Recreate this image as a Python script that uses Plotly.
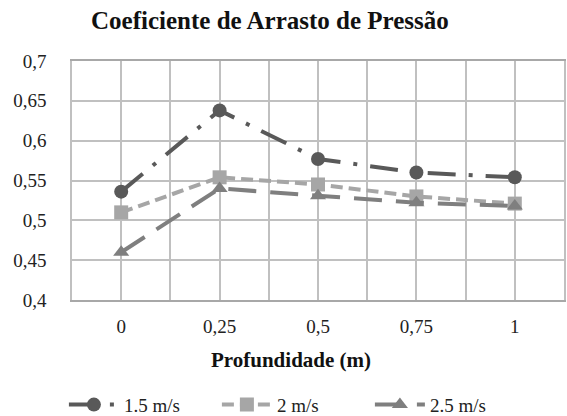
import plotly.graph_objects as go

# Depth (m) and pressure drag coefficient for each flow speed
profundidade = [0, 0.25, 0.5, 0.75, 1]
cd_15 = [0.536, 0.638, 0.577, 0.560, 0.554]
cd_20 = [0.510, 0.554, 0.545, 0.530, 0.521]
cd_25 = [0.460, 0.540, 0.531, 0.522, 0.518]

series = [
    ("1.5 m/s", cd_15, "#595959", "28px,13px,4px,13px", "circle"),
    ("2 m/s", cd_20, "#a6a6a6", "12px,6px", "square"),
    ("2.5 m/s", cd_25, "#7f7f7f", "28px,14px", "triangle-up"),
]

FONT = "Liberation Serif, DejaVu Serif, serif"
GRID = "#c0c0c0"

fig = go.Figure()
for name, vals, color, dash, sym in series:
    fig.add_trace(go.Scatter(
        x=profundidade, y=vals, name=name, mode="lines+markers",
        line=dict(color=color, width=4, dash=dash),
        marker=dict(symbol=sym, size=14, color=color),
    ))

# gridlines every 0.125, labels only on the data positions
grid_x = [i * 0.125 for i in range(-1, 10)]
grid_txt = ["" if v not in profundidade else f"{v:g}".replace(".", ",") for v in grid_x]

y_ticks = [0.4 + 0.05 * i for i in range(7)]
y_txt = [f"{v:.2f}".rstrip("0").replace(".", ",") for v in y_ticks]

fig.update_layout(
    width=567, height=416,
    margin=dict(l=72, r=3, t=61, b=116, autoexpand=False),
    paper_bgcolor="white", plot_bgcolor="white",
    font=dict(family=FONT, size=19, color="#222222"),
    title=dict(text="<b>Coeficiente de Arrasto de Pressão</b>",
               x=0.476, xanchor="center", y=0.952, yanchor="middle",
               font=dict(family=FONT, size=25, color="#111111")),
    xaxis=dict(range=[-0.125, 1.125], tickvals=grid_x, ticktext=grid_txt,
               showgrid=True, gridcolor=GRID, gridwidth=1.5, zeroline=False,
               showline=True, linecolor="#a8a8a8", linewidth=1.5, mirror=True,
               ticks="", ticklabelstandoff=8,
               tickfont=dict(family=FONT, size=19, color="#222222")),
    yaxis=dict(range=[0.4, 0.7], tickvals=y_ticks, ticktext=y_txt,
               showgrid=True, gridcolor=GRID, gridwidth=1.5, zeroline=False,
               showline=True, linecolor=GRID, linewidth=1.5, mirror=True,
               ticks="", ticklabelstandoff=20,
               tickfont=dict(family=FONT, size=19, color="#222222")),
    legend=dict(orientation="h", x=0.45, xanchor="center",
                yref="container", y=0.027, yanchor="middle",
                font=dict(family=FONT, size=19, color="#222222"),
                itemwidth=50, entrywidth=88, entrywidthmode="pixels",
                bgcolor="rgba(0,0,0,0)"),
    showlegend=True,
)

fig.add_annotation(text="<b>Profundidade (m)</b>", xref="paper", yref="paper",
                   x=0.445, y=-0.25, xanchor="center", yanchor="middle",
                   showarrow=False, font=dict(family=FONT, size=21, color="#111111"))

fig.write_html("out.html")
